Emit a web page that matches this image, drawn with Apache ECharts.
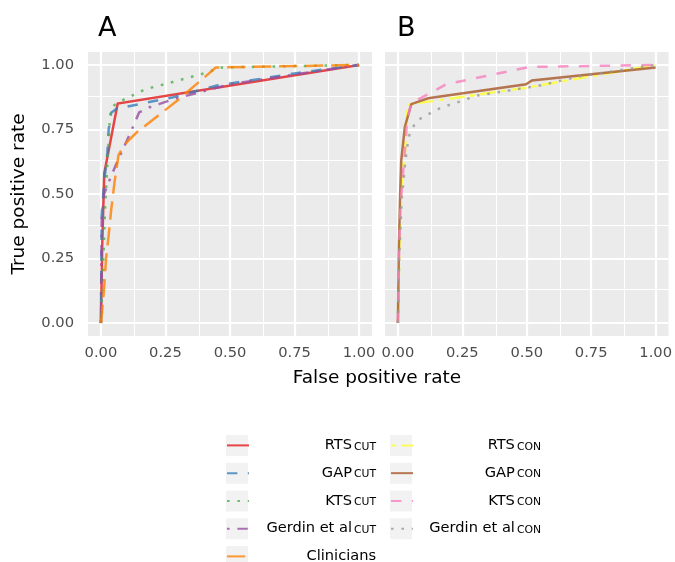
<!DOCTYPE html>
<html><head><meta charset="utf-8">
<script src="https://cdn.jsdelivr.net/npm/echarts@6/dist/echarts.min.js"></script>
<style>html,body{margin:0;padding:0;background:#fff}#c{width:675px;height:562px}</style>
</head><body><div id="c"></div>
<script>
// ---------- data ----------
const majorTicks = [0, 0.25, 0.5, 0.75, 1];
const minorTicks = [0.125, 0.375, 0.625, 0.875];
const panelTags = ['A', 'B'];
const xTitle = 'False positive rate';
const yTitle = 'True positive rate';

// Panel A
const rtsCut = [[0,0],[0.005,0.3],[0.013,0.58],[0.065,0.85],[1,1]];
const gapCut = [[0,0],[0.003,0.42],[0.013,0.55],[0.025,0.66],[0.03,0.75],[0.04,0.815],[0.06,0.83],[0.28,0.875],[0.45,0.92],[0.77,0.97],[1,1]];
const ktsCut = [[0,0],[0.006,0.15],[0.016,0.44],[0.028,0.67],[0.035,0.8],[0.045,0.84],[0.077,0.86],[0.17,0.905],[0.3,0.94],[0.41,0.97],[0.46,0.99],[1,1]];
const gerdinCut = [[0,0],[0.003,0.4],[0.012,0.5],[0.032,0.55],[0.057,0.61],[0.077,0.655],[0.12,0.75],[0.148,0.816],[0.186,0.835],[0.225,0.848],[0.283,0.868],[0.5,0.925],[1,1]];
const clinicians = [[0,0],[0.005,0.05],[0.012,0.13],[0.02,0.25],[0.03,0.34],[0.04,0.44],[0.052,0.54],[0.068,0.65],[0.09,0.69],[0.14,0.74],[0.3,0.865],[0.445,0.99],[1,1]];
// Panel B
const rtsCon = [[0,0],[0.006,0.3],[0.015,0.55],[0.028,0.67],[0.037,0.84],[0.05,0.848],[0.5,0.912],[1,1]];
const gapCon = [[0,0],[0.004,0.3],[0.008,0.475],[0.013,0.63],[0.027,0.76],[0.052,0.848],[0.117,0.871],[0.497,0.925],[0.52,0.94],[1,0.99]];
const ktsCon = [[0,0],[0.005,0.3],[0.01,0.45],[0.02,0.58],[0.03,0.7],[0.035,0.78],[0.052,0.854],[0.123,0.889],[0.187,0.925],[0.51,0.992],[1,1]];
const gerdinCon = [[0,0],[0.005,0.25],[0.015,0.49],[0.022,0.55],[0.028,0.62],[0.035,0.67],[0.041,0.72],[0.054,0.75],[0.073,0.784],[0.106,0.803],[0.131,0.816],[0.168,0.835],[0.25,0.861],[0.3,0.88],[0.55,0.92],[0.7,0.955],[1,1]];

const namesA = ['RTS_CUT','GAP_CUT','KTS_CUT','Gerdin_CUT','Clinicians'];
const mainA = ['RTS','GAP','KTS','Gerdin et al','Clinicians'];
const subA = ['CUT','CUT','CUT','CUT',''];
const dataA = [rtsCut, gapCut, ktsCut, gerdinCut, clinicians];
const namesB = ['RTS_CON','GAP_CON','KTS_CON','Gerdin_CON'];
const mainB = ['RTS','GAP','KTS','Gerdin et al'];
const subB = ['CON','CON','CON','CON'];
const dataB = [rtsCon, gapCon, ktsCon, gerdinCon];

// ---------- styles ----------
const colorsA = ['#E41A1C','#377EB8','#4DAF4A','#984EA3','#FF7F00'];
const colorsB = ['#FFFF33','#A65628','#F781BF','#999999'];
const U = 2.6;
const LT = {solid:'solid', dashed:[4*U,4*U], dotted:[U,3*U], dotdash:[U,3*U,4*U,3*U], longdash:[7*U,3*U], twodash:[2*U,2*U,6*U,2*U]};
const typesA = ['solid','dashed','dotted','dotdash','longdash'];
const typesB = ['twodash','solid','dashed','dotted'];
const FONT = 'DejaVu Sans';
const LW = 2.5;
const ROW0 = 445.5, PITCH = 27.75, LEG_OFF = 8.5;

function measure(t, size){const c=document.createElement('canvas').getContext('2d');c.font=size+'px "'+FONT+'"';return c.measureText(t).width;}

const chart = echarts.init(document.getElementById('c'));

function gridMarkLine(){
  const d = [];
  majorTicks.forEach(v=>{d.push({xAxis:v,lineStyle:{width:2.2}});d.push({yAxis:v,lineStyle:{width:2.2}});});
  minorTicks.forEach(v=>{d.push({xAxis:v,lineStyle:{width:1.1}});d.push({yAxis:v,lineStyle:{width:1.1}});});
  return {silent:true, symbol:'none', z:1, label:{show:false}, lineStyle:{color:'#ffffff', type:'solid', opacity:1}, emphasis:{disabled:true}, data:d};
}

function axisX(gi){
  return {type:'value', gridIndex:gi, min:-0.05, max:1.05,
    axisLine:{show:false}, splitLine:{show:false},
    axisTick:{show:true, customValues:majorTicks, length:6, lineStyle:{color:'#333333', width:2}},
    axisLabel:{show:true, customValues:majorTicks, formatter:v=>v.toFixed(2), color:'#4d4d4d', fontSize:14.7, fontFamily:FONT, margin:10}};
}
function axisY(gi, show){
  return {type:'value', gridIndex:gi, min:-0.05, max:1.05,
    axisLine:{show:false}, splitLine:{show:false},
    axisTick:{show:show, customValues:majorTicks, length:6, lineStyle:{color:'#333333', width:2}},
    axisLabel:{show:show, customValues:majorTicks, formatter:v=>v.toFixed(2), color:'#4d4d4d', fontSize:14.7, fontFamily:FONT, margin:14}};
}

const series = [];
[0,1].forEach(gi=>{
  series.push({type:'line', name:'_grid'+gi, xAxisIndex:gi, yAxisIndex:gi, data:[], silent:true, markLine:gridMarkLine()});
});
function addSeries(names, datas, colors, types, gi){
  names.forEach((n,i)=>{
    series.push({type:'line', name:n, xAxisIndex:gi, yAxisIndex:gi, data:datas[i], symbol:'none', showSymbol:false, z:2,
      lineStyle:{color:colors[i], width:LW, type:LT[types[i]], opacity:0.8, cap:'butt', join:'miter'},
      itemStyle:{color:colors[i]}});
  });
}
addSeries(namesA, dataA, colorsA, typesA, 0);
addSeries(namesB, dataB, colorsB, typesB, 1);

const legends = [];
const graphics = [];
function legendCol(names, mains, subs, left, total){
  const subW = measure(subs.find(s=>s)||'CUT', 10.8) + 2;
  names.forEach((name,i)=>{
    const cy = ROW0 + i*PITCH;
    graphics.push({type:'rect', z:0, shape:{x:left, y:cy-10.5, width:22, height:21}, style:{fill:'#f2f2f2'}});
    legends.push({
      orient:'vertical', left:left, top:cy-LEG_OFF, padding:0, itemWidth:22, itemHeight:21, itemGap:0,
      selectedMode:false, data:[name], itemStyle:{opacity:0},
      formatter:()=> subs[i] ? '{m|'+mains[i]+'}{s|'+subs[i]+'}' : '{f|'+mains[i]+'}',
      textStyle:{fontFamily:FONT, color:'#000', rich:{
        m:{fontSize:14.6, fontFamily:FONT, color:'#000', width:total-subW, align:'right', lineHeight:21},
        s:{fontSize:10.8, fontFamily:FONT, color:'#000', width:subW, align:'right', lineHeight:17, verticalAlign:'middle', padding:[3,0,0,0]},
        f:{fontSize:14.6, fontFamily:FONT, color:'#000', width:total, align:'right', lineHeight:21}
      }}
    });
  });
}
legendCol(namesA, mainA, subA, 226, 122);
legendCol(namesB, mainB, subB, 390, 123);

graphics.push({type:'text', x:98, y:29, style:{text:panelTags[0], fontSize:27, fontFamily:FONT, fill:'#000', align:'left', verticalAlign:'middle'}});
graphics.push({type:'text', x:397, y:29, style:{text:panelTags[1], fontSize:27, fontFamily:FONT, fill:'#000', align:'left', verticalAlign:'middle'}});
graphics.push({type:'text', x:377, y:378, style:{text:xTitle, fontSize:18.5, fontFamily:FONT, fill:'#000', align:'center', verticalAlign:'middle'}});
graphics.push({type:'text', x:19, y:194, rotation:Math.PI/2, style:{text:yTitle, fontSize:18.5, fontFamily:FONT, fill:'#000', align:'center', verticalAlign:'middle'}});

chart.setOption({
  animation:false,
  backgroundColor:'#ffffff',
  textStyle:{fontFamily:FONT},
  grid:[
    {left:88, top:52, width:284, height:284, show:true, backgroundColor:'#ebebeb', borderWidth:0},
    {left:385, top:52, width:285, height:284, show:true, backgroundColor:'#ebebeb', borderWidth:0}
  ],
  xAxis:[axisX(0), axisX(1)],
  yAxis:[axisY(0,true), axisY(1,false)],
  legend:legends,
  graphic:graphics,
  series:series
});
</script></body></html>
